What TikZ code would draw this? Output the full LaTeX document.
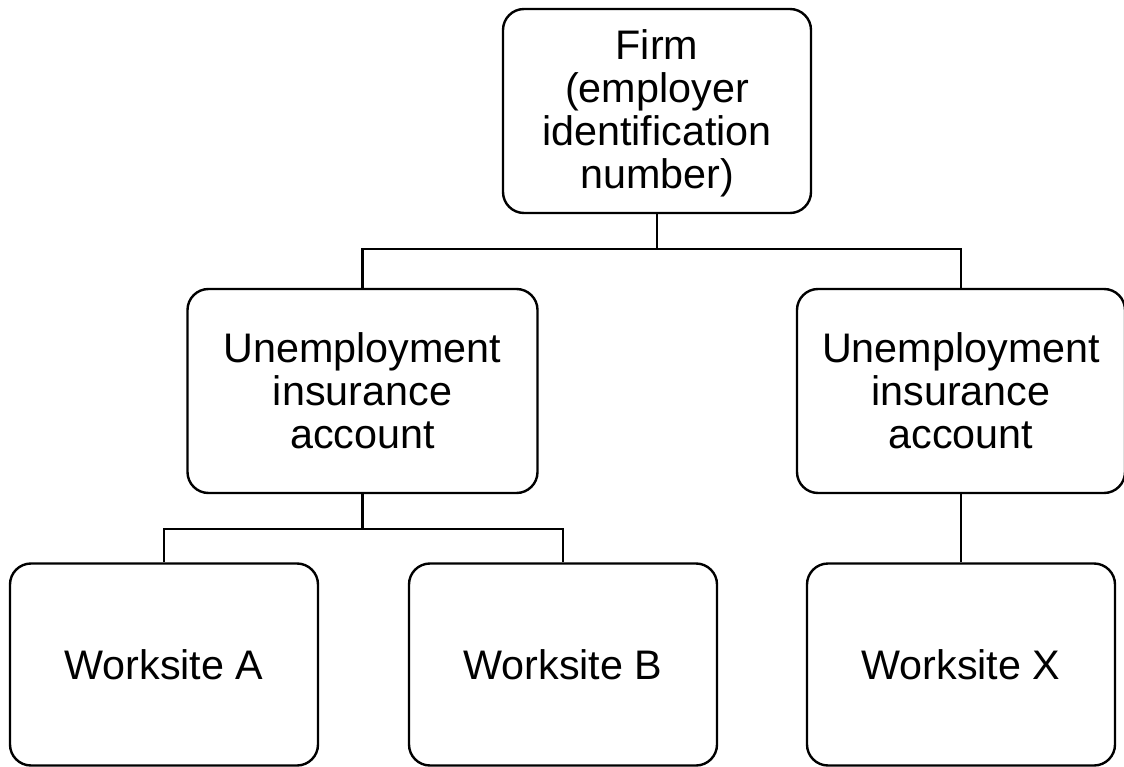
\documentclass[tikz,border=0pt]{standalone}
\usepackage{fontspec}
\setmainfont{Liberation Sans}
\begin{document}
\begin{tikzpicture}[x=1pt,y=-1pt,
  box/.style={draw=black, line width=2.4pt, rounded corners=21pt, align=center,
    font=\fontsize{41.3}{43}\selectfont, inner sep=0pt},
  link/.style={draw=black, line width=2.4pt}]
\useasboundingbox (0,0) rectangle (1124,767);
\node[box, minimum width=308pt, minimum height=204pt] (firm) at (657,111)
  {\rule{0pt}{35pt}Firm\\(employer\\identification\\number)};
\node[box, minimum width=350pt, minimum height=204pt] (ui1) at (362.5,391)
  {Unemployment\\insurance\\account};
\node[box, minimum width=328pt, minimum height=204pt] (ui2) at (961,391)
  {Unemployment\\insurance\\account};
\node[box, minimum width=308pt, minimum height=202pt] (wa) at (164,664.5) {Worksite A};
\node[box, minimum width=308pt, minimum height=202pt] (wb) at (563,664.5) {Worksite B};
\node[box, minimum width=308pt, minimum height=202pt] (wx) at (961,664.5) {Worksite X};
\coordinate (j1) at (657,249);
\coordinate (j2) at (362.5,529);
\draw[link] (firm.south) -- (j1);
\draw[link] (j1) -| (ui1.north);
\draw[link] (j1) -| (ui2.north);
\draw[link] (ui1.south) -- (j2);
\draw[link] (j2) -| (wa.north);
\draw[link] (j2) -| (wb.north);
\draw[link] (ui2.south) -- (wx.north);
\end{tikzpicture}
\end{document}
